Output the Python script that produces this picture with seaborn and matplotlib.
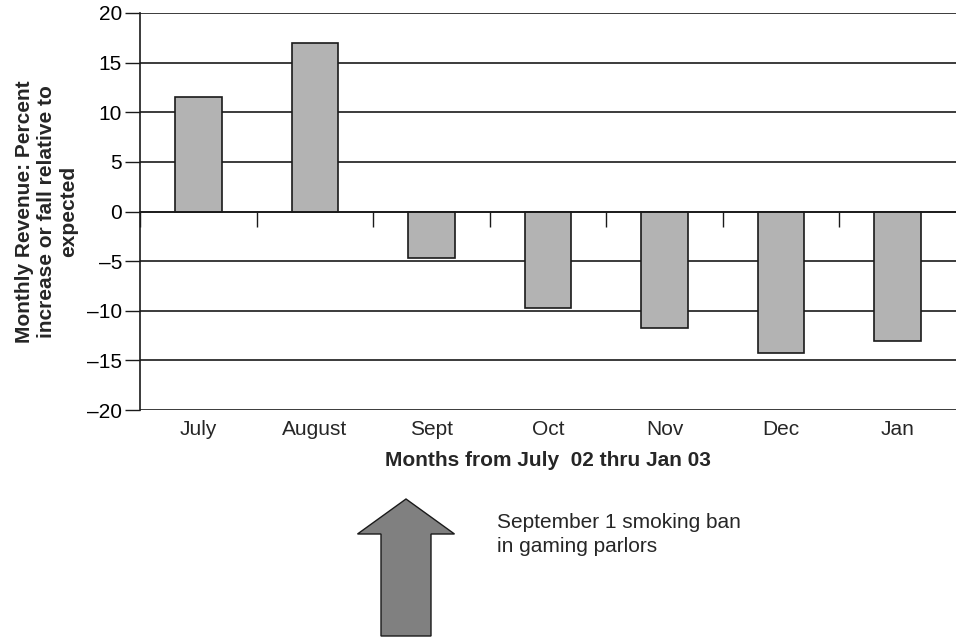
import matplotlib
matplotlib.use("Agg")
import matplotlib.pyplot as plt
from matplotlib.patches import FancyArrow
import seaborn as sns
import pandas as pd

months = ["July", "August", "Sept", "Oct", "Nov", "Dec", "Jan"]
revenue_change = [11.5, 17.0, -4.7, -9.7, -11.7, -14.3, -13.0]
y_ticks = [-20, -15, -10, -5, 0, 5, 10, 15, 20]

sns.set_theme(style="white")
plt.rcParams["font.family"] = ["Liberation Sans", "DejaVu Sans"]

FS = 15

df = pd.DataFrame({"month": months, "change": revenue_change})

fig = plt.figure(figsize=(9.56, 6.38), dpi=100)
ax = fig.add_axes([140 / 956, (638 - 410) / 638, 816 / 956, 397 / 638])

sns.barplot(data=df, x="month", y="change", color="#b3b3b3", saturation=1,
            edgecolor="#1a1a1a", linewidth=1.2, width=0.4, ax=ax, zorder=3)

ax.set_xlim(-0.5, len(months) - 0.5)
ax.set_ylim(-20, 20)
ax.set_yticks(y_ticks)
ax.set_yticklabels([str(v).replace("-", "\u2013") for v in y_ticks], fontsize=FS)
ax.yaxis.grid(True, color="#1a1a1a", linewidth=1.2, zorder=0)
ax.set_axisbelow(True)
ax.tick_params(axis="y", direction="out", length=11, width=1, color="#1a1a1a",
               left=True, pad=2, labelcolor="black")

for s in ["top", "right"]:
    ax.spines[s].set_visible(False)
ax.spines["left"].set_color("#1a1a1a")
ax.spines["left"].set_linewidth(1.2)

# zero line with category boundary ticks
ax.spines["bottom"].set_position(("data", 0))
ax.spines["bottom"].set_color("#1a1a1a")
ax.spines["bottom"].set_linewidth(1.2)
ax.spines["bottom"].set_zorder(4)
ax.set_xticks([i - 0.5 for i in range(len(months))])
ax.tick_params(axis="x", direction="out", length=11, width=1, color="#1a1a1a",
               bottom=True, labelbottom=False)
ax.set_xlabel("")
ax.set_ylabel("Monthly Revenue: Percent\nincrease or fall relative to\nexpected",
              fontsize=FS, fontweight="bold", linespacing=1.2)
ax.yaxis.set_label_coords((78 - 140) / 816, 0.5)

# month labels along the bottom edge
sec = ax.secondary_xaxis("bottom")
sec.set_xticks(range(len(months)))
sec.set_xticklabels(months, fontsize=FS)
sec.tick_params(length=0, pad=7)
sec.spines["bottom"].set_visible(False)
sec.set_xlabel("Months from July  02 thru Jan 03", fontsize=FS,
               fontweight="bold", labelpad=9)

# arrow marking the start of the smoking ban
inch = fig.dpi_scale_trans
arrow = FancyArrow(406 / 100, 2 / 100, 0, 137 / 100, width=50 / 100,
                   head_width=97 / 100, head_length=35 / 100,
                   length_includes_head=True, transform=inch,
                   facecolor="#808080", edgecolor="#1a1a1a", linewidth=1)
fig.patches.append(arrow)

fig.text(497 / 956, 1 - 513 / 638, "September 1 smoking ban\nin gaming parlors",
         fontsize=FS, ha="left", va="top", linespacing=1.35)

fig.savefig("out.png", dpi=100)
